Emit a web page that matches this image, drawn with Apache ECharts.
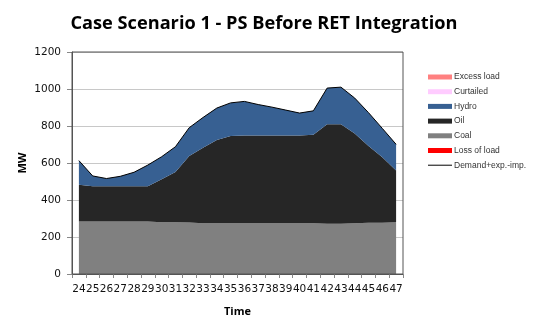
<!DOCTYPE html>
<html><head><meta charset="utf-8">
<script src="https://cdn.jsdelivr.net/npm/echarts@6/dist/echarts.min.js"></script>
<style>html,body{margin:0;padding:0;background:#fff}#c{width:540px;height:333px}</style>
</head><body><div id="c"></div>
<script>
const categories = ['24','25','26','27','28','29','30','31','32','33','34','35','36','37','38','39','40','41','42','43','44','45','46','47'];
const coal  = [284,284,284,284,284,284,280,280,279,275,275,275,275,275,275,275,275,275,271,271,275,277,277,280];
const oil   = [199,190,190,190,190,190,232,272,359,408,449,471,474,474,474,474,474,478,539,539,485,415,354,279];
const hydro = [130,56,42,54,76,115,122,136,153,163,173,179,184,167,153,137,121,129,195,200,191,180,156,142];
const demand = [613,530,516,528,550,589,634,688,791,846,897,925,933,916,902,886,870,882,1005,1010,951,872,787,701];
const excessLoad = categories.map(() => 0);
const curtailed = categories.map(() => 0);
const lossOfLoad = categories.map(() => 0);
const yTicks = [0,200,400,600,800,1000,1200];

const chart = echarts.init(document.getElementById('c'));
const areaSeries = (name, data, color) => ({
  name, type: 'line', stack: 'gen', data, symbol: 'none',
  lineStyle: { width: 0 }, areaStyle: { color: color, opacity: 1 },
  itemStyle: { color: color }, emphasis: { disabled: true }
});
chart.setOption({
  animation: false,
  title: { text: 'Case Scenario 1 - PS Before RET Integration', left: 259, textAlign: 'center', top: 10,
    textStyle: { fontFamily: 'Open Sans', fontWeight: 'bold', fontSize: 18.2, color: '#000' } },
  grid: { left: 72, right: 137, top: 52, bottom: 59 },
  legend: {
    orient: 'vertical', left: 423, top: 67, itemWidth: 24, itemHeight: 5, itemGap: 4.7,
    textStyle: { fontFamily: 'Liberation Sans', fontSize: 8.5, color: '#333', padding: [0,0,0,-3], height: 10, lineHeight: 10 },
    data: [
      { name: 'Excess load', icon: 'rect' },
      { name: 'Curtailed', icon: 'rect' },
      { name: 'Hydro', icon: 'rect' },
      { name: 'Oil', icon: 'rect' },
      { name: 'Coal', icon: 'rect' },
      { name: 'Loss of load', icon: 'rect' },
      { name: 'Demand+exp.-imp.', icon: 'path://M0,2 L24,2 L24,3 L0,3 Z', itemStyle: { color: '#000' } }
    ]
  },
  xAxis: {
    type: 'category', data: categories, boundaryGap: true,
    name: 'Time', nameLocation: 'middle', nameGap: 32,
    nameTextStyle: { fontFamily: 'Open Sans', fontWeight: 'bold', fontSize: 11, color: '#000' },
    axisLine: { lineStyle: { color: '#555' } },
    axisTick: { show: true, length: 4, lineStyle: { color: '#888' } },
    axisLabel: { interval: 0, hideOverlap: false, fontFamily: 'DejaVu Sans', fontSize: 10.5, color: '#111', margin: 10 }
  },
  yAxis: {
    type: 'value', min: 0, max: 1200, interval: 200,
    name: 'MW', nameLocation: 'middle', nameGap: 44, nameMoveOverlap: false,
    nameTextStyle: { fontFamily: 'Open Sans', fontWeight: 'bold', fontSize: 11, color: '#000' },
    axisLine: { show: true, lineStyle: { color: '#555' } },
    axisTick: { show: true, length: 5, lineStyle: { color: '#888' } },
    axisLabel: { fontFamily: 'DejaVu Sans', fontSize: 10.5, color: '#111', margin: 11,
      formatter: v => yTicks.includes(v) ? String(v) : '' },
    splitLine: { lineStyle: { color: '#c8c8c8' } }
  },
  series: [
    areaSeries('Coal', coal, '#808080'),
    areaSeries('Oil', oil, '#262626'),
    areaSeries('Loss of load', lossOfLoad, '#ff0000'),
    areaSeries('Hydro', hydro, '#376092'),
    areaSeries('Curtailed', curtailed, '#ffccff'),
    areaSeries('Excess load', excessLoad, '#ff8080'),
    { name: 'Demand+exp.-imp.', type: 'line', data: demand, symbol: 'none',
      lineStyle: { color: '#000', width: 1 }, itemStyle: { color: '#000' }, z: 5 }
  ],
  graphic: [{ type: 'rect', shape: { x: 72, y: 52, width: 331, height: 222 },
    style: { fill: 'none', stroke: '#555', lineWidth: 1 }, silent: true, z: 10 }]
});
</script></body></html>
